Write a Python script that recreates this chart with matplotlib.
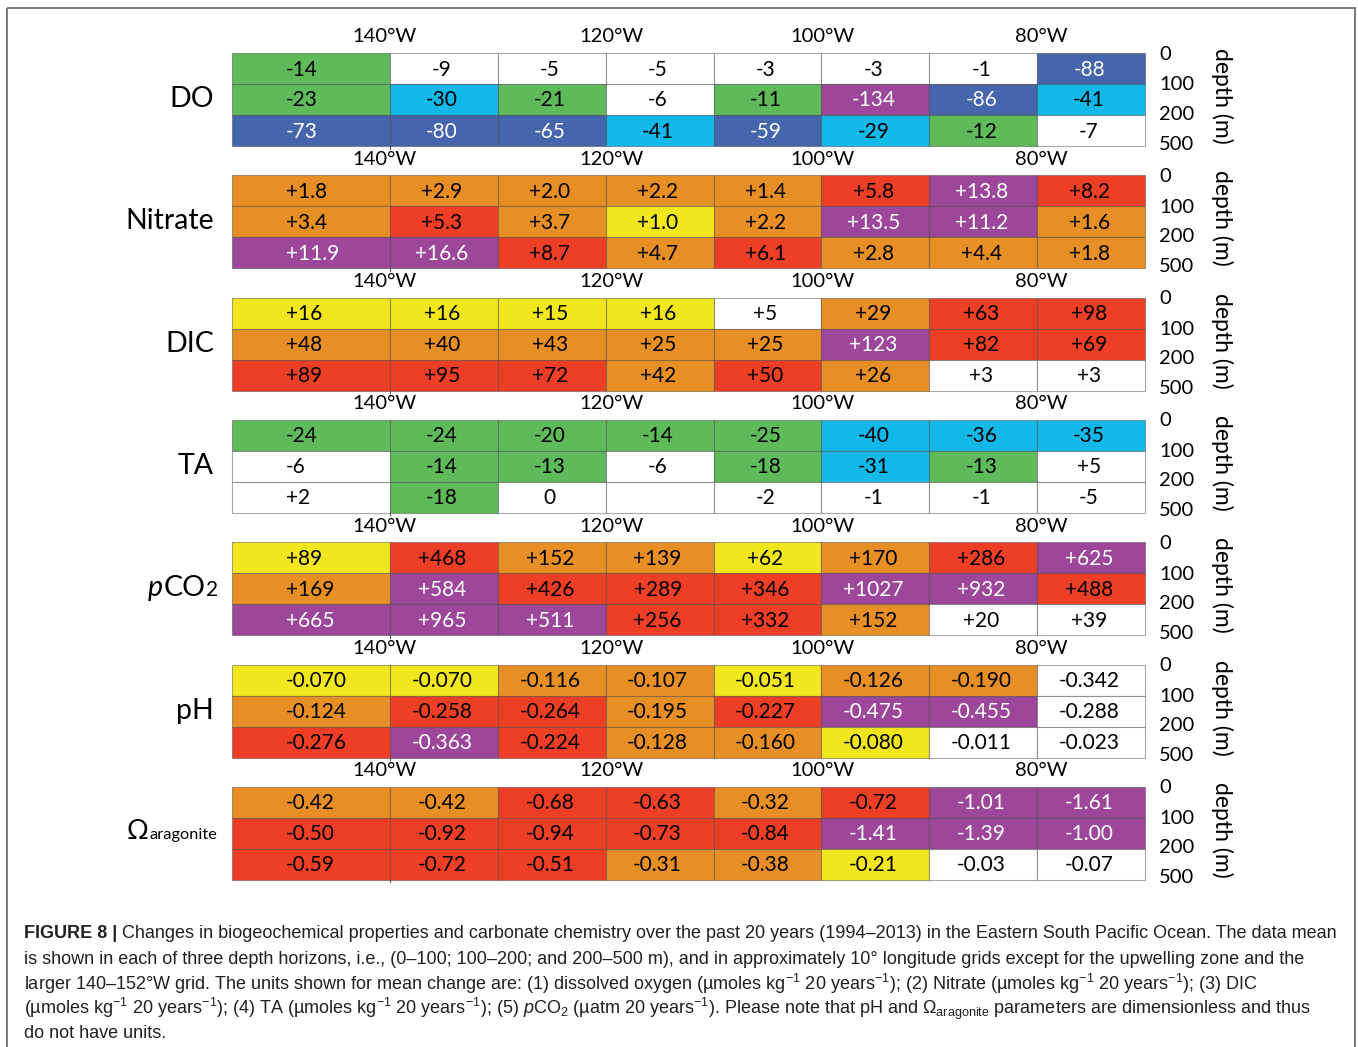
import matplotlib
matplotlib.use('Agg')
import matplotlib.pyplot as plt
from matplotlib.patches import Rectangle

# ---- Data (values and colour class per cell, 3 depth rows x 8 longitude cols) ----
# colour classes: G green, C cyan, B blue, P purple, O orange, R red, Y yellow, W white
DO_VALUES = [['-14', '-9', '-5', '-5', '-3', '-3', '-1', '-88'],
             ['-23', '-30', '-21', '-6', '-11', '-134', '-86', '-41'],
             ['-73', '-80', '-65', '-41', '-59', '-29', '-12', '-7']]
DO_CLASSES = ['GWWWWWWB', 'GCGWGPBC', 'BBBCBCGW']

NITRATE_VALUES = [['+1.8', '+2.9', '+2.0', '+2.2', '+1.4', '+5.8', '+13.8', '+8.2'],
                  ['+3.4', '+5.3', '+3.7', '+1.0', '+2.2', '+13.5', '+11.2', '+1.6'],
                  ['+11.9', '+16.6', '+8.7', '+4.7', '+6.1', '+2.8', '+4.4', '+1.8']]
NITRATE_CLASSES = ['OOOOORPR', 'OROYOPPO', 'PPROROOO']

DIC_VALUES = [['+16', '+16', '+15', '+16', '+5', '+29', '+63', '+98'],
              ['+48', '+40', '+43', '+25', '+25', '+123', '+82', '+69'],
              ['+89', '+95', '+72', '+42', '+50', '+26', '+3', '+3']]
DIC_CLASSES = ['YYYYWORR', 'OOOOOPRR', 'RRROROWW']

TA_VALUES = [['-24', '-24', '-20', '-14', '-25', '-40', '-36', '-35'],
             ['-6', '-14', '-13', '-6', '-18', '-31', '-13', '+5'],
             ['+2', '-18', '0', '', '-2', '-1', '-1', '-5']]
TA_CLASSES = ['GGGGGCCC', 'WGGWGCGW', 'WGWWWWWW']

PCO2_VALUES = [['+89', '+468', '+152', '+139', '+62', '+170', '+286', '+625'],
               ['+169', '+584', '+426', '+289', '+346', '+1027', '+932', '+488'],
               ['+665', '+965', '+511', '+256', '+332', '+152', '+20', '+39']]
PCO2_CLASSES = ['YROOYORP', 'OPRRRPPR', 'PPPRROWW']

PH_VALUES = [['-0.070', '-0.070', '-0.116', '-0.107', '-0.051', '-0.126', '-0.190', '-0.342'],
             ['-0.124', '-0.258', '-0.264', '-0.195', '-0.227', '-0.475', '-0.455', '-0.288'],
             ['-0.276', '-0.363', '-0.224', '-0.128', '-0.160', '-0.080', '-0.011', '-0.023']]
PH_CLASSES = ['YYOOYOOW', 'ORRORPPW', 'RPROOYWW']

OMEGA_VALUES = [['-0.42', '-0.42', '-0.68', '-0.63', '-0.32', '-0.72', '-1.01', '-1.61'],
                ['-0.50', '-0.92', '-0.94', '-0.73', '-0.84', '-1.41', '-1.39', '-1.00'],
                ['-0.59', '-0.72', '-0.51', '-0.31', '-0.38', '-0.21', '-0.03', '-0.07']]
OMEGA_CLASSES = ['OORRORPP', 'RRRRRPPP', 'RRROOYWW']

PANELS = [('DO', DO_VALUES, DO_CLASSES),
          ('Nitrate', NITRATE_VALUES, NITRATE_CLASSES),
          ('DIC', DIC_VALUES, DIC_CLASSES),
          ('TA', TA_VALUES, TA_CLASSES),
          ('pCO2', PCO2_VALUES, PCO2_CLASSES),
          ('pH', PH_VALUES, PH_CLASSES),
          ('Omega', OMEGA_VALUES, OMEGA_CLASSES)]

LON_LABELS = ['140°W', '120°W', '100°W', '80°W']
DEPTH_LABELS = ['0', '100', '200', '500']

COLORS = {
    'G': '#5fba5a',   # green
    'C': '#12b8e8',   # cyan
    'B': '#4565ad',   # dark blue
    'P': '#9c479a',   # purple
    'O': '#e78f25',   # orange
    'R': '#ee3f26',   # red
    'Y': '#f2e71c',   # yellow
    'W': '#ffffff',   # white
}
WHITE_TEXT = {'B', 'P'}

CAPTION_HEAD = "FIGURE 8 |"
CAPTION_FIRST = (" Changes in biogeochemical properties and carbonate chemistry over the past "
                 "20 years (1994–2013) in the Eastern South Pacific Ocean. The data mean")
CAPTION_LINES = [
    "is shown in each of three depth horizons, i.e., (0–100; 100–200; and 200–500 m), "
    "and in approximately 10° longitude grids except for the upwelling zone and the",
    "larger 140–152°W grid. The units shown for mean change are: (1) dissolved oxygen "
    "(µmoles kg$^{-1}$ 20 years$^{-1}$); (2) Nitrate (µmoles kg$^{-1}$ 20 years$^{-1}$); (3) DIC",
    "(µmoles kg$^{-1}$ 20 years$^{-1}$); (4) TA (µmoles kg$^{-1}$ 20 years$^{-1}$); "
    "(5) $p$CO$_2$ (µatm 20 years$^{-1}$). Please note that pH and Ω$_{\\mathrm{aragonite}}$ "
    "parameters are dimensionless and thus",
    "do not have units.",
]

# ---- Layout (pixels) ----
W, H = 1358, 1047
COL_EDGES = [232, 390] + [390 + 107.86 * k for k in range(1, 8)]
PANEL_TOP0 = 53
PANEL_STEP = 122.3
ROW_H = 31
LON_X = [384, 611, 822, 1041]

plt.rcParams['font.family'] = ['Lato', 'DejaVu Sans']
plt.rcParams['mathtext.fontset'] = 'custom'
plt.rcParams['mathtext.rm'] = 'Liberation Sans'
plt.rcParams['mathtext.it'] = 'Liberation Sans:italic'
plt.rcParams['mathtext.bf'] = 'Liberation Sans:bold'

fig = plt.figure(figsize=(W / 100, H / 100), dpi=100)
ax = fig.add_axes([0, 0, 1, 1])
ax.set_xlim(0, W)
ax.set_ylim(H, 0)
ax.axis('off')
renderer = fig.canvas.get_renderer()

# outer frame
ax.add_patch(Rectangle((7, 8), 1348, 1100, fill=False, edgecolor='#6d6e71', lw=1.3))

lefts = COL_EDGES[:-1]
widths = [COL_EDGES[i + 1] - COL_EDGES[i] for i in range(8)]
centers = [COL_EDGES[i] + widths[i] / 2 - 2 for i in range(8)]

for p, (name, values, classes) in enumerate(PANELS):
    top = PANEL_TOP0 + p * PANEL_STEP
    for r in range(3):
        y0 = top + r * ROW_H
        cols = [COLORS[c] for c in classes[r]]
        ax.bar(lefts, ROW_H, width=widths, bottom=y0, align='edge', color=cols,
               edgecolor=(0.25, 0.25, 0.25, 0.45), linewidth=0.8)
        for c in range(8):
            tc = 'white' if classes[r][c] in WHITE_TEXT else 'black'
            if c == 0:
                # first (wide) column: text starts at a fixed left position
                ax.text(286, y0 + ROW_H / 2 + 1, values[r][c], ha='left', va='center',
                        fontsize=15, color=tc)
            else:
                ax.text(centers[c], y0 + ROW_H / 2 + 1, values[r][c], ha='center',
                        va='center', fontsize=15, color=tc)
    # small tick under the table at 140°W boundary
    ax.plot([COL_EDGES[1], COL_EDGES[1]], [top + 3 * ROW_H, top + 3 * ROW_H + 2.5],
            color='#555555', lw=0.8)

    # longitude labels
    for x, lab in zip(LON_X, LON_LABELS):
        ax.text(x, top - 16, lab, ha='center', va='center', fontsize=14.5)

    # depth labels
    for dy, lab in zip([1, 32, 61, 91], DEPTH_LABELS):
        ax.text(1159, top + dy, lab, ha='left', va='center', fontsize=14.5)
    ax.text(1222, top + 43, 'depth (m)', ha='center', va='center', rotation=-90,
            fontsize=16.5)

    # row label
    ymid = top + 46
    if name == 'pCO2':
        base = ymid + 8
        t2 = ax.text(218, base, '2', ha='right', va='baseline', fontsize=15)
        x_co = t2.get_window_extent(renderer=renderer).x0 - 0.5
        tco = ax.text(x_co, base, 'CO', ha='right', va='baseline', fontsize=20.5)
        x_p = tco.get_window_extent(renderer=renderer).x0 - 0.5
        ax.text(x_p, base, 'p', ha='right', va='baseline', fontsize=20.5, style='italic')
    elif name == 'Omega':
        ax.text(148, ymid + 6, 'Ω', ha='right', va='baseline', fontsize=19.5)
        ax.text(149, ymid + 6, 'aragonite', ha='left', va='baseline', fontsize=11.8)
    else:
        ax.text(214, ymid, name, ha='right', va='center', fontsize=20.5)

# ---- Caption ----
cap_font = dict(family=['Liberation Sans', 'DejaVu Sans'], fontsize=13.0, color='#231f20')
head = ax.text(24, 934, CAPTION_HEAD, ha='left', va='center', fontweight='bold', **cap_font)
bb = head.get_window_extent(renderer=renderer)
ax.text(bb.x1, 934, CAPTION_FIRST, ha='left', va='center', **cap_font)
for i, line in enumerate(CAPTION_LINES):
    ax.text(24, 959 + 25 * i, line, ha='left', va='center', **cap_font)

fig.savefig('out.png', dpi=100)
